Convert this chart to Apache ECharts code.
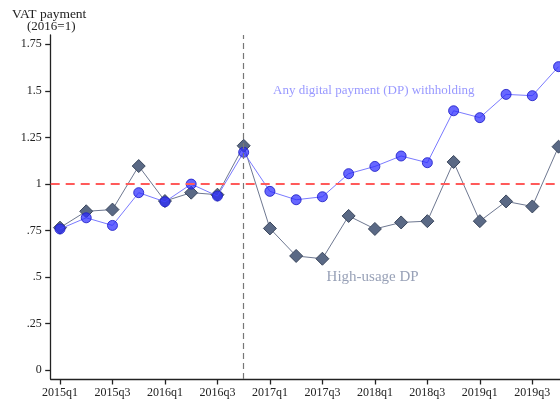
<!DOCTYPE html>
<html>
<head>
<meta charset="utf-8">
<script src="https://cdn.jsdelivr.net/npm/echarts@6/dist/echarts.min.js"></script>
<style>
  html, body { margin: 0; padding: 0; background: #fff; }
  #chart { width: 560px; height: 405px; }
</style>
</head>
<body>
<div id="chart"></div>
<script>
// Quarterly VAT payment index (2016 = 1)
const quarters = [
  '2015q1','2015q2','2015q3','2015q4',
  '2016q1','2016q2','2016q3','2016q4',
  '2017q1','2017q2','2017q3','2017q4',
  '2018q1','2018q2','2018q3','2018q4',
  '2019q1','2019q2','2019q3','2019q4'
];
const anyDP = [
  0.758, 0.818, 0.777, 0.953, 0.904, 0.999, 0.935, 1.170,
  0.960, 0.915, 0.931, 1.055, 1.094, 1.150, 1.114, 1.393,
  1.356, 1.481, 1.474, 1.630
];
const highDP = [
  0.765, 0.853, 0.862, 1.096, 0.908, 0.953, 0.942, 1.205,
  0.761, 0.613, 0.598, 0.828, 0.758, 0.793, 0.800, 1.118,
  0.800, 0.906, 0.879, 1.200
];
const xTickIndex = [0, 2, 4, 6, 8, 10, 12, 14, 16, 18];
const yTickValues = [0, 0.25, 0.5, 0.75, 1, 1.25, 1.5, 1.75];
const yTickLabels = ['0', '.25', '.5', '.75', '1', '1.25', '1.5', '1.75'];
const referenceLevel = 1;
const policyQuarter = 7;

const serif = 'Liberation Serif';
const chart = echarts.init(document.getElementById('chart'), null, { renderer: 'canvas' });

const axisLineStyle = { color: '#222', width: 1.3 };

chart.setOption({
  animation: false,
  backgroundColor: '#fff',
  grid: { left: 50.7, top: 35, right: -24.8, bottom: 26, outerBoundsMode: 'none', containLabel: false },
  xAxis: {
    type: 'value',
    min: -0.354,
    max: 20,
    splitLine: { show: false },
    axisLine: { show: true, onZero: false, lineStyle: axisLineStyle },
    axisTick: { show: true, length: 5.5, lineStyle: axisLineStyle, customValues: xTickIndex },
    axisLabel: {
      customValues: xTickIndex,
      formatter: v => quarters[Math.round(v)] || '',
      fontFamily: serif, fontSize: 12, color: '#222', margin: 8
    }
  },
  yAxis: {
    type: 'value',
    min: -0.048,
    max: 1.8,
    splitLine: { show: false },
    axisLine: { show: true, onZero: false, lineStyle: axisLineStyle },
    axisTick: { show: true, length: 5.5, lineStyle: axisLineStyle, customValues: yTickValues },
    axisLabel: {
      customValues: yTickValues,
      formatter: v => {
        const i = yTickValues.findIndex(t => Math.abs(t - v) < 1e-6);
        return i >= 0 ? yTickLabels[i] : '';
      },
      fontFamily: serif, fontSize: 12, color: '#222', margin: 9
    }
  },
  series: [
    {
      name: 'High-usage DP',
      type: 'line',
      data: highDP.map((v, i) => [i, v]),
      symbol: 'diamond',
      symbolSize: 13,
      lineStyle: { color: '#6e7891', width: 1 },
      itemStyle: { color: '#5a6985', borderColor: '#3b475d', borderWidth: 1 },
      z: 3,
      markLine: {
        silent: true,
        symbol: 'none',
        label: { show: false },
        data: [
          { yAxis: referenceLevel, lineStyle: { color: '#ff5a5a', width: 2, type: [9, 6] } },
          { xAxis: policyQuarter, lineStyle: { color: '#777', width: 1.2, type: [6, 4] } }
        ]
      },
      markPoint: {
        silent: true,
        symbol: 'circle',
        symbolSize: 0,
        label: {
          show: true,
          position: 'right',
          distance: 0,
          fontFamily: serif,
          fontSize: 15,
          color: '#98a1b7',
          formatter: 'High-usage DP'
        },
        data: [{ coord: [10.16, 0.50] }]
      }
    },
    {
      name: 'Any digital payment (DP) withholding',
      type: 'line',
      data: anyDP.map((v, i) => [i, v]),
      symbol: 'circle',
      symbolSize: 10,
      lineStyle: { color: '#7a7aff', width: 1 },
      itemStyle: { color: 'rgba(45,45,255,0.72)', borderColor: 'rgba(30,30,200,0.85)', borderWidth: 1 },
      z: 4,
      markPoint: {
        silent: true,
        symbol: 'circle',
        symbolSize: 0,
        label: {
          show: true,
          position: 'right',
          distance: 0,
          fontFamily: serif,
          fontSize: 13,
          color: '#9999ff',
          formatter: 'Any digital payment (DP) withholding'
        },
        data: [{ coord: [8.12, 1.499] }]
      }
    }
  ],
  graphic: [
    {
      type: 'text', left: 12, top: 7,
      style: { text: 'VAT payment', fontFamily: serif, fontSize: 13.5, fill: '#222' }
    },
    {
      type: 'text', left: 27, top: 20,
      style: { text: '(2016=1)', fontFamily: serif, fontSize: 13, fill: '#222' }
    }
  ]
});
</script>
</body>
</html>
